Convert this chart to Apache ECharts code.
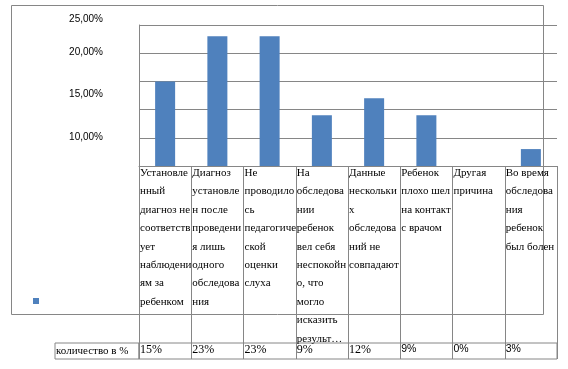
<!DOCTYPE html>
<html><head><meta charset="utf-8">
<script src="https://cdn.jsdelivr.net/npm/echarts@6/dist/echarts.min.js"></script>
<style>html,body{margin:0;padding:0;background:#fff}#c{width:568px;height:369px}</style>
</head><body><div id="c"></div>
<script>
// ---- data ----
const categories = [
  'Установле\nнный\nдиагноз не\nсоответств\nует\nнаблюдени\nям за\nребенком',
  'Диагноз\nустановле\nн после\nпроведени\nя лишь\nодного\nобследова\nния',
  'Не\nпроводило\nсь\nпедагогиче\nской\nоценки\nслуха',
  'На\nобследова\nнии\nребенок\nвел себя\nнеспокойн\nо, что\nмогло\nисказить\nрезульт…',
  'Данные\nнескольки\nх\nобследова\nний не\nсовпадают',
  'Ребенок\nплохо шел\nна контакт\nс врачом',
  'Другая\nпричина',
  'Во время\nобследова\nния\nребенок\nбыл болен'
];
const seriesName = 'количество в %';
const values = [15, 23, 23, 9, 12, 9, 0, 3];
const tickLabels = ['25,00%', '20,00%', '15,00%', '10,00%'];

const gray = '#868686';
const tickY = [19, 52, 94, 137];

function catLabelAxis(parity) {
  return {type: 'value', gridIndex: 1, min: 0, max: 8, interval: 1, position: 'top',
    axisLine: {show: false}, axisTick: {show: false},
    splitLine: {show: parity === 0, lineStyle: {color: gray, width: 1}},
    axisLabel: {show: true, inside: true, align: 'left', verticalAlign: 'top', margin: -2, hideOverlap: false,
      lineHeight: 18.4, fontSize: 11, fontFamily: 'Liberation Serif', color: '#000', padding: [0, 0, 0, 1],
      showMinLabel: true, showMaxLabel: true,
      formatter: v => (v % 2 === parity && categories[v]) ? categories[v] : ''}};
}

const chart = echarts.init(document.getElementById('c'), null, {renderer: 'canvas'});
chart.setOption({
  animation: false,
  backgroundColor: '#fff',
  graphic: [
    {type: 'rect', shape: {x: 11.5, y: 5.5, width: 532, height: 309}, style: {fill: 'none', stroke: gray, lineWidth: 1}, z: 0}
  ].concat(tickLabels.map((t, i) => ({
    type: 'text', x: 103, y: tickY[i],
    style: {text: t, fill: '#000', font: '10px "Liberation Sans"', align: 'right', verticalAlign: 'middle'}
  }))),
  legend: {
    data: [seriesName], left: 33, top: 298, itemWidth: 6, itemHeight: 6, icon: 'rect',
    padding: 0, itemGap: 0, formatter: () => '', selectedMode: false
  },
  grid: [
    {left: 139, top: 25, width: 418, height: 141, outerBoundsMode: 'none', containLabel: false},
    {left: 139, top: 166, width: 418, height: 177, outerBoundsMode: 'none', containLabel: false},
    {left: 55, top: 343, width: 84, height: 16, show: true, borderColor: gray, borderWidth: 1, outerBoundsMode: 'none', containLabel: false},
    {left: 139, top: 343, width: 418, height: 16, show: true, borderColor: gray, borderWidth: 1, outerBoundsMode: 'none', containLabel: false}
  ],
  xAxis: [
    {type: 'category', gridIndex: 0, data: categories, axisLine: {show: true, lineStyle: {color: gray}},
     axisTick: {show: false}, axisLabel: {show: false}},
    catLabelAxis(0),
    {type: 'value', gridIndex: 2, min: 0, max: 1, show: false},
    {type: 'value', gridIndex: 3, min: 0, max: 8, interval: 1, position: 'top',
     axisLine: {show: false}, axisTick: {show: false},
     splitLine: {show: true, lineStyle: {color: gray, width: 1}},
     axisLabel: {show: true, inside: true, align: 'left', verticalAlign: 'top', margin: 1, hideOverlap: false,
       padding: [0, 0, 0, 1], showMinLabel: true, showMaxLabel: true,
       formatter: v => {
         if (v >= values.length) return '';
         return v >= 5 ? '{s|' + values[v] + '%}' : '{r|' + values[v] + '%}';
       },
       rich: {
         r: {fontFamily: 'Liberation Serif', fontSize: 12, color: '#000'},
         s: {fontFamily: 'Liberation Sans', fontSize: 10.5, color: '#000'}
       }}},
    catLabelAxis(1)
  ],
  yAxis: [
    {type: 'value', gridIndex: 0, min: 0, max: 25, interval: 5,
     axisLine: {show: true, lineStyle: {color: gray}}, axisTick: {show: false}, axisLabel: {show: false},
     splitLine: {show: true, lineStyle: {color: gray, width: 1}}},
    {type: 'value', gridIndex: 1, min: 0, max: 1, show: false},
    {type: 'category', gridIndex: 2, data: [seriesName], axisLine: {show: false}, axisTick: {show: false},
     axisLabel: {inside: true, align: 'left', margin: 0, padding: [0, 0, 0, 1], fontFamily: 'Liberation Serif', fontSize: 11, color: '#000'}},
    {type: 'value', gridIndex: 3, min: 0, max: 1, show: false}
  ],
  series: [
    {name: seriesName, type: 'bar', xAxisIndex: 0, yAxisIndex: 0, data: values, barWidth: 20,
     itemStyle: {color: '#4F81BD'}}
  ]
});
</script>
</body></html>
